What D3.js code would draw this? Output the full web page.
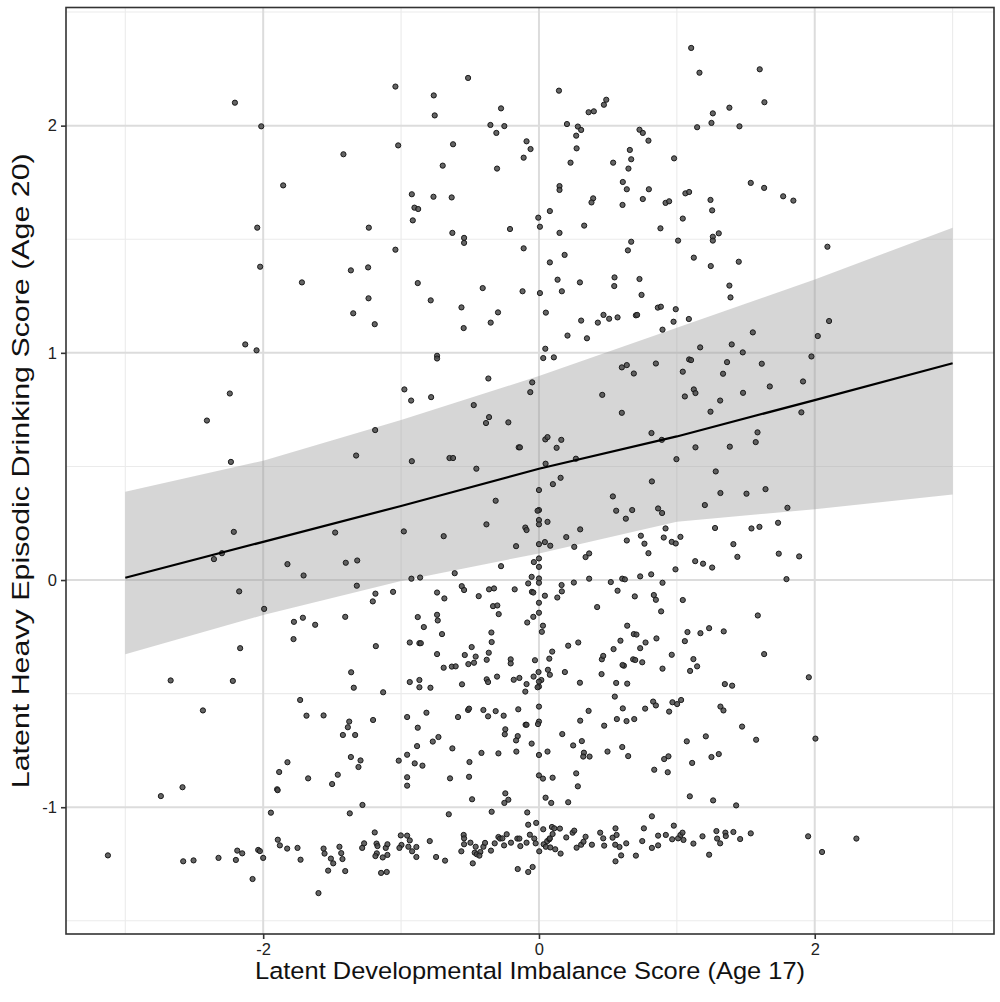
<!DOCTYPE html>
<html><head><meta charset="utf-8">
<script src="https://cdn.jsdelivr.net/npm/d3@7"></script>
<style>body{margin:0;background:#fff}svg{display:block}</style>
</head><body>
<svg id="c" width="1000" height="1002"></svg>
<script>
const xTicks=[-2,0,2];
const yTicks=[-1,0,1,2];
const xMinor=[-3,-1,1,3];
const yMinor=[-1.5,-0.5,0.5,1.5,2.5];
const xTitle="Latent Developmental Imbalance Score (Age 17)";
const yTitle="Latent Heavy Episodic Drinking Score (Age 20)";
const fitX=[-3,-2,-1,0,1,2,3];
const fitY=[0.010,0.168,0.326,0.490,0.632,0.792,0.954];
const bandHi=[0.389,0.525,0.704,0.898,1.110,1.323,1.551];
const bandLo=[-0.327,-0.154,-0.004,0.117,0.257,0.312,0.377];
const points=[
[-2.205,2.101],[-2.014,1.997],[-1.855,1.737],[-2.043,1.551],[-2.022,1.379],
[-0.514,2.210],[-1.041,2.172],[-0.763,2.133],[-0.275,2.076],[-0.756,2.045],[-0.352,2.003],[-0.251,1.998],[-0.309,1.968],[-1.021,1.913],[-0.623,1.918],[-1.418,1.874],[-0.698,1.824],[-0.304,1.811],[-0.922,1.698],[-0.765,1.687],[-0.633,1.684],[-0.903,1.639],[-0.876,1.633],[-0.915,1.583],[-1.234,1.551],[-0.628,1.528],[-0.543,1.506],[-0.543,1.484],[-0.210,1.545],[-1.041,1.454],[-1.364,1.363],[-1.239,1.376],[-1.719,1.310],[-0.879,1.307],[-0.408,1.285],[-1.236,1.240],[-0.785,1.231],[-0.562,1.200],[-0.297,1.178],[-1.347,1.174],[-0.350,1.133],[-1.191,1.126],[-0.546,1.109],
[1.104,2.342],[1.164,2.233],[0.145,2.154],[0.488,2.114],[0.471,2.092],[0.360,2.059],[0.398,2.063],[1.381,2.079],[1.261,2.054],[1.251,2.012],[1.147,1.993],[1.454,1.997],[0.203,2.007],[0.282,1.996],[0.306,1.981],[0.270,1.956],[0.729,1.982],[0.753,1.968],[0.794,1.934],[-0.090,1.931],[-0.061,1.897],[-0.111,1.859],[0.273,1.900],[0.659,1.893],[0.669,1.852],[0.229,1.837],[0.538,1.837],[0.980,1.856],[0.649,1.811],[0.608,1.752],[0.637,1.720],[0.797,1.720],[0.149,1.734],[0.149,1.717],[1.062,1.702],[1.089,1.708],[0.753,1.677],[0.393,1.680],[0.381,1.662],[0.918,1.660],[0.944,1.667],[0.606,1.651],[1.244,1.673],[1.256,1.627],[0.079,1.624],[-0.005,1.595],[0.007,1.555],[1.043,1.591],[0.328,1.560],[0.881,1.548],[0.149,1.528],[1.304,1.526],[1.261,1.511],[1.261,1.494],[1.009,1.494],[0.669,1.489],[0.645,1.451],[-0.111,1.460],[0.186,1.431],[0.079,1.398],[1.123,1.419],[1.246,1.382],[1.449,1.401],[0.135,1.322],[0.297,1.310],[0.548,1.332],[0.546,1.294],[0.729,1.325],[-0.119,1.271],[0.007,1.263],[0.166,1.271],[0.744,1.255],[1.381,1.296],[1.389,1.244],[0.050,1.177],[0.306,1.142],[0.427,1.133],[0.468,1.167],[0.509,1.150],[0.570,1.156],[0.703,1.165],[0.712,1.167],[0.862,1.199],[0.884,1.203],[0.992,1.192],[0.976,1.137],[1.087,1.149],[0.207,1.076],[0.348,1.064],[0.896,1.102],
[1.601,2.248],[1.635,2.103],[1.536,1.748],[1.633,1.726],[1.771,1.689],[1.845,1.670],[2.092,1.467],[2.104,1.140],[2.022,1.074],[1.551,1.090],
[-2.130,1.037],[-2.048,1.011],[-2.242,0.821],[-2.408,0.702],[-2.234,0.520],[-2.213,0.212],[-2.299,0.118],[-2.357,0.092],[-1.824,0.070],[-2.174,-0.050],[-1.993,-0.127],[-2.167,-0.300],
[-0.739,0.987],[-0.739,0.975],[-0.367,0.887],[-0.976,0.839],[-0.927,0.790],[-0.782,0.805],[-0.473,0.770],[-0.362,0.717],[-0.384,0.691],[-0.222,0.694],[-1.188,0.660],[-0.147,0.584],[-1.326,0.548],[-0.922,0.523],[-0.649,0.537],[-0.623,0.537],[-0.454,0.490],[-0.314,0.349],[-0.381,0.245],[-1.478,0.209],[-0.980,0.214],[-0.691,0.193],[-0.166,0.149],[-1.401,0.076],[-1.318,0.086],[-0.275,0.061],[-1.707,0.020],[-0.611,0.030],[-0.925,0.006],[-0.862,0.011],[-1.321,-0.025],[-1.186,-0.060],[-1.205,-0.094],[-1.058,-0.052],[-0.739,-0.055],[-0.686,-0.081],[-0.560,-0.027],[-0.543,-0.044],[-0.437,-0.071],[-0.362,-0.041],[-0.326,-0.037],[-0.176,-0.041],[-1.777,-0.184],[-1.712,-0.166],[-1.623,-0.197],[-1.780,-0.260],[-1.405,-0.162],[-0.879,-0.163],[-0.835,-0.207],[-0.739,-0.153],[-0.734,-0.178],[-0.703,-0.238],[-0.333,-0.115],[-0.302,-0.112],[-0.292,-0.150],[-0.345,-0.231],[-0.343,-0.273],[-1.183,-0.291],[-0.937,-0.275],[-0.867,-0.278],[-0.857,-0.278],[-0.488,-0.295],
[0.046,1.018],[0.031,0.977],[0.108,0.980],[1.169,1.024],[1.398,1.037],[1.478,1.002],[0.601,0.936],[0.637,0.946],[0.688,0.909],[0.848,0.953],[1.089,0.971],[1.103,0.968],[1.043,0.917],[1.364,0.959],[1.335,0.908],[-0.049,0.870],[-0.063,0.827],[0.459,0.815],[1.123,0.839],[1.135,0.823],[1.058,0.808],[1.314,0.790],[1.480,0.824],[1.244,0.741],[0.601,0.736],[0.816,0.647],[0.891,0.617],[0.046,0.619],[0.062,0.629],[0.162,0.617],[0.128,0.582],[-0.138,0.584],[0.268,0.534],[0.048,0.512],[0.997,0.532],[1.135,0.584],[1.384,0.587],[1.282,0.478],[0.157,0.450],[0.101,0.422],[0.819,0.434],[1.316,0.383],[1.505,0.380],[0.536,0.368],[0.560,0.305],[0.676,0.308],[0.630,0.270],[0.864,0.315],[0.893,0.295],[1.203,0.330],
[0,0.396],[0,0.308],[-0.01,0.305],[0,0.264],[0,0.245],[0,0.158],[0,0.095],[0,0.058],[0,0.007],[0,-0.012],[0,-0.100],[0,-0.144],
[-0.099,0.231],[-0.090,0.220],[0.062,0.256],[0.299,0.223],[0.198,0.189],[0.256,0.146],[0.043,0.167],[0.082,0.151],[0.338,0.101],[0.364,0.117],[0.637,0.174],[0.739,0.195],[0.765,0.160],[0.794,0.118],[0.905,0.187],[0.918,0.227],[0.963,0.168],[0.992,0.161],[1.026,0.190],[1.277,0.229],[1.410,0.158],[1.439,0.102],[0.990,0.047],[1.133,0.083],[1.190,0.072],[1.256,0.055],[-0.037,0.079],[-0.053,0.014],[-0.078,-0.015],[-0.051,-0.052],[-0.041,-0.055],[0.043,-0.069],[0.133,-0.077],[0.166,-0.050],[0.164,-0.022],[0.253,-0.011],[0.364,0.006],[0.521,-0.009],[0.570,-0.047],[0.604,0.006],[0.623,0.003],[0.734,0.016],[0.814,0.025],[0.896,-0.012],[0.833,-0.066],[0.848,-0.087],[0.695,-0.072],[1.043,-0.088],[0.422,-0.119],[0.886,-0.138],[-0.041,-0.162],[-0.085,-0.187],[0.029,-0.201],[0.021,-0.228],[0.640,-0.201],[0.688,-0.238],[0.707,-0.240],[1.077,-0.229],[1.058,-0.269],[1.171,-0.234],[1.234,-0.212],[1.340,-0.226],[0.591,-0.267],[0.773,-0.275],[0.852,-0.257],[0.734,-0.300],[0.285,-0.275],[0.212,-0.289],[0.541,-0.304],
[1.976,0.984],[1.616,0.952],[1.674,0.852],[1.915,0.874],[1.903,0.738],[1.585,0.650],[1.572,0.607],[1.643,0.400],[1.802,0.318],[1.541,0.227],[1.599,0.234],[1.734,0.252],[1.739,0.116],[1.887,0.104],[1.795,0.004],[1.587,-0.156],
[-2.671,-0.442],[-2.220,-0.444],[-2.437,-0.574],[-1.824,-0.802],[-1.884,-0.845],[-1.899,-0.921],[-1.895,-0.925],[-2.585,-0.912],[-2.742,-0.951],[-1.944,-1.024],[-1.894,-1.143],[-1.879,-1.168],[-1.826,-1.182],[-3.126,-1.212],[-2.580,-1.238],[-2.505,-1.234],[-2.324,-1.223],[-2.198,-1.232],[-2.188,-1.191],[-2.152,-1.203],[-2.036,-1.188],[-2.024,-1.193],[-2.000,-1.223],[-2.077,-1.316],
[-0.739,-0.326],[-1.362,-0.406],[-1.343,-0.474],[-1.130,-0.494],[-1.732,-0.528],[-1.686,-0.597],[-1.562,-0.596],[-1.376,-0.623],[-1.386,-0.648],[-1.422,-0.682],[-1.333,-0.682],[-1.203,-0.616],[-1.364,-0.779],[-1.294,-0.794],[-1.309,-0.823],[-1.674,-0.873],[-1.459,-0.857],[-1.500,-0.898],[-1.280,-0.990],[-1.372,-1.027],[-1.017,-0.795],[-0.956,-0.769],[-0.901,-0.807],[-0.845,-0.817],[-0.956,-0.868],[-0.956,-0.905],[-0.956,-0.603],[-0.879,-0.650],[-0.884,-0.731],[-0.816,-0.584],[-0.770,-0.711],[-0.729,-0.691],[-0.628,-0.741],[-0.587,-0.603],[-0.937,-0.449],[-0.867,-0.440],[-0.867,-0.472],[-0.787,-0.474],[-0.691,-0.386],[-0.632,-0.381],[-0.604,-0.380],[-0.558,-0.459],[-0.538,-0.330],[-0.512,-0.370],[-0.471,-0.364],[-0.459,-0.337],[-0.379,-0.351],[-0.364,-0.320],[-0.379,-0.437],[-0.369,-0.449],[-0.304,-0.425],[-0.205,-0.349],[-0.205,-0.367],[-0.183,-0.439],[-0.142,-0.431],[-0.514,-0.572],[-0.507,-0.566],[-0.403,-0.572],[-0.369,-0.600],[-0.314,-0.577],[-0.256,-0.597],[-0.150,-0.569],[-0.244,-0.657],[-0.248,-0.679],[-0.154,-0.687],[-0.166,-0.706],[-0.417,-0.761],[-0.294,-0.763],[-0.164,-0.755],[-0.504,-0.801],[-0.507,-0.866],[-0.645,-0.873],[-0.485,-0.965],[-0.244,-0.939],[-0.222,-0.967],[-0.251,-0.981],[-0.343,-1.020],[-0.654,-1.031],
[-1.751,-1.179],[-1.729,-1.231],[-1.562,-1.182],[-1.555,-1.204],[-1.509,-1.226],[-1.492,-1.247],[-1.447,-1.174],[-1.434,-1.202],[-1.425,-1.228],[-1.529,-1.279],[-1.405,-1.281],[-1.599,-1.378],[-1.282,-1.179],[-1.268,-1.159],[-1.191,-1.111],[-1.178,-1.160],[-1.171,-1.171],[-1.176,-1.203],[-1.186,-1.215],[-1.133,-1.221],[-1.099,-1.210],[-1.111,-1.179],[-1.099,-1.163],[-1.145,-1.289],[-1.104,-1.285],[-1.002,-1.124],[-0.997,-1.166],[-1.012,-1.179],[-0.956,-1.125],[-0.937,-1.146],[-0.947,-1.174],[-0.920,-1.194],[-0.889,-1.175],[-0.889,-1.219],[-0.792,-1.149],[-0.746,-1.219],[-0.681,-1.235],[-0.546,-1.122],[-0.543,-1.137],[-0.543,-1.163],[-0.563,-1.194],[-0.497,-1.156],[-0.459,-1.174],[-0.466,-1.200],[-0.451,-1.207],[-0.425,-1.197],[-0.432,-1.213],[-0.480,-1.247],[-0.403,-1.174],[-0.391,-1.157],[-0.348,-1.191],[-0.321,-1.159],[-0.294,-1.131],[-0.282,-1.138],[-0.265,-1.137],[-0.234,-1.119],[-0.253,-1.168],[-0.203,-1.156],[-0.157,-1.138],[-0.142,-1.138],[-0.135,-1.171],[-0.154,-1.272],
[-0.029,-0.353],[0.096,-0.315],[0.075,-0.346],[0.065,-0.395],[0.079,-0.417],[-0.003,-0.405],[-0.039,-0.425],[0.017,-0.440],[0,-0.447],[0,-0.469],[-0.010,-0.472],[-0.090,-0.458],[-0.099,-0.491],[0.188,-0.405],[0.297,-0.452],[0.454,-0.414],[0.456,-0.349],[0.466,-0.334],[0.616,-0.377],[0.606,-0.374],[0.683,-0.349],[0.698,-0.352],[0.749,-0.362],[0.896,-0.390],[0.963,-0.329],[1.120,-0.348],[1.096,-0.400],[1.147,-0.380],[0.560,-0.453],[0.640,-0.456],[0.550,-0.513],[-0.097,-0.637],[-0.090,-0.637],[0,-0.557],[0,-0.623],[-0.007,-0.634],[0,-0.770],[0,-0.860],[0.029,-0.874],[0.099,-0.870],[-0.053,-0.720],[0.048,-0.958],[0.089,-0.981],[0.212,-0.978],[0.062,-0.755],[0.169,-0.678],[0.299,-0.619],[0.360,-0.576],[0.248,-0.728],[0.311,-0.709],[0.326,-0.760],[0.321,-0.777],[0.367,-0.777],[0.270,-0.851],[0.282,-0.908],[0.473,-0.641],[0.497,-0.755],[0.565,-0.612],[0.608,-0.565],[0.635,-0.621],[0.691,-0.612],[0.604,-0.735],[0.647,-0.775],[0.770,-0.566],[0.828,-0.535],[0.848,-0.552],[0.944,-0.579],[0.968,-0.538],[1.002,-0.546],[1.031,-0.528],[0.836,-0.835],[0.908,-0.788],[0.939,-0.776],[0.934,-0.846],[1.072,-0.710],[1.111,-0.805],[1.094,-0.952],[1.210,-0.688],[1.251,-0.779],[1.304,-0.766],[1.263,-0.970],[1.316,-0.557],[1.338,-0.574],[1.348,-0.458],[1.401,-0.465],[1.473,-0.645],[1.430,-0.992],
[-0.085,-1.023],[-0.078,-1.077],[-0.020,-1.069],[0.031,-1.097],[-0.066,-1.121],[-0.034,-1.138],[-0.090,-1.156],[-0.024,-1.159],[0.002,-1.194],[-0.078,-1.285],[-0.046,-1.263],[0.034,-1.163],[0.060,-1.149],[0.075,-1.141],[0.079,-1.137],[0.099,-1.118],[0.094,-1.087],[0.111,-1.093],[0.152,-1.094],[0.050,-1.174],[0.082,-1.177],[0.118,-1.185],[0.157,-1.204],[0.198,-1.133],[0.244,-1.112],[0.256,-1.103],[0.273,-1.178],[0.306,-1.165],[0.323,-1.152],[0.338,-1.130],[0.384,-1.165],[0.444,-1.112],[0.466,-1.137],[0.473,-1.169],[0.534,-1.134],[0.555,-1.093],[0.563,-1.122],[0.553,-1.165],[0.584,-1.175],[0.633,-1.159],[0.596,-1.212],[0.555,-1.238],[0.703,-1.213],[0.749,-1.149],[0.761,-1.093],[0.819,-1.040],[0.819,-1.179],[0.864,-1.168],[0.864,-1.125],[0.920,-1.122],[0.966,-1.141],[0.978,-1.081],[1.009,-1.137],[1.026,-1.122],[1.041,-1.112],[1.048,-1.144],[1.120,-1.160],[1.186,-1.128],[1.234,-1.209],[1.287,-1.105],[1.292,-1.138],[1.314,-1.159],[1.352,-1.112],[1.355,-1.127],[1.410,-1.109],[1.459,-1.140],[1.536,-1.115],
[1.633,-0.326],[1.957,-0.428],[1.575,-0.703],[2.005,-0.698],[1.952,-1.128],[2.053,-1.197],[2.302,-1.138]
];

const svg=d3.select("#c");
const L=66,R=994,T=7.5,B=934;
const x=d3.scaleLinear().domain([-3.43,3.30]).range([L,R]);
const y=d3.scaleLinear().domain([-1.558,2.52]).range([B,T]);
const font="'Liberation Sans', Arial, sans-serif";

const g=svg.append("g");
g.append("rect").attr("x",L).attr("y",T).attr("width",R-L).attr("height",B-T).attr("fill","#fff");
g.selectAll(".xm").data(xMinor).join("line").attr("x1",d=>x(d)).attr("x2",d=>x(d)).attr("y1",T).attr("y2",B).attr("stroke","#ebebeb").attr("stroke-width",1.1);
g.selectAll(".ym").data(yMinor).join("line").attr("y1",d=>y(d)).attr("y2",d=>y(d)).attr("x1",L).attr("x2",R).attr("stroke","#ebebeb").attr("stroke-width",1.1);
g.selectAll(".xM").data(xTicks).join("line").attr("x1",d=>x(d)).attr("x2",d=>x(d)).attr("y1",T).attr("y2",B).attr("stroke","#dcdcdc").attr("stroke-width",2);
g.selectAll(".yM").data(yTicks).join("line").attr("y1",d=>y(d)).attr("y2",d=>y(d)).attr("x1",L).attr("x2",R).attr("stroke","#dcdcdc").attr("stroke-width",2);

const bandData=fitX.map((v,i)=>({x:v,lo:bandLo[i],hi:bandHi[i]}));
g.append("path").datum(bandData)
 .attr("d",d3.area().x(d=>x(d.x)).y0(d=>y(d.lo)).y1(d=>y(d.hi)))
 .attr("fill","#999999").attr("fill-opacity",0.4);

g.selectAll(".pt").data(points).join("circle")
 .attr("cx",d=>x(d[0])).attr("cy",d=>y(d[1])).attr("r",2.6)
 .attr("fill","#4a4a4a").attr("fill-opacity",0.85).attr("stroke","#1a1a1a").attr("stroke-width",1);

g.append("path").datum(fitX.map((v,i)=>[v,fitY[i]]))
 .attr("d",d3.line().x(d=>x(d[0])).y(d=>y(d[1])))
 .attr("fill","none").attr("stroke","#000").attr("stroke-width",2.2);

g.append("rect").attr("x",L).attr("y",T).attr("width",R-L).attr("height",B-T).attr("fill","none").attr("stroke","#333").attr("stroke-width",1.6);

const fmt=d=>String(d);
const xa=svg.append("g").attr("transform",`translate(0,${B})`).call(d3.axisBottom(x).tickValues(xTicks).tickSize(5).tickPadding(4).tickFormat(fmt));
const ya=svg.append("g").attr("transform",`translate(${L},0)`).call(d3.axisLeft(y).tickValues(yTicks).tickSize(5).tickPadding(4).tickFormat(fmt));
[xa,ya].forEach(a=>{a.select(".domain").remove();a.selectAll("line").attr("stroke","#333").attr("stroke-width",1.6);a.selectAll("text").attr("fill","#222").style("font-family",font).style("font-size","16.5px");});

svg.append("text").attr("x",(L+R)/2).attr("y",979).attr("text-anchor","middle").attr("textLength",550).attr("lengthAdjust","spacingAndGlyphs").style("font-family",font).style("font-size","24.5px").attr("fill","#111").text(xTitle);
svg.append("text").attr("transform",`translate(29,${(T+B)/2}) rotate(-90)`).attr("text-anchor","middle").attr("textLength",635).attr("lengthAdjust","spacingAndGlyphs").style("font-family",font).style("font-size","24.5px").attr("fill","#111").text(yTitle);
</script>
</body></html>
